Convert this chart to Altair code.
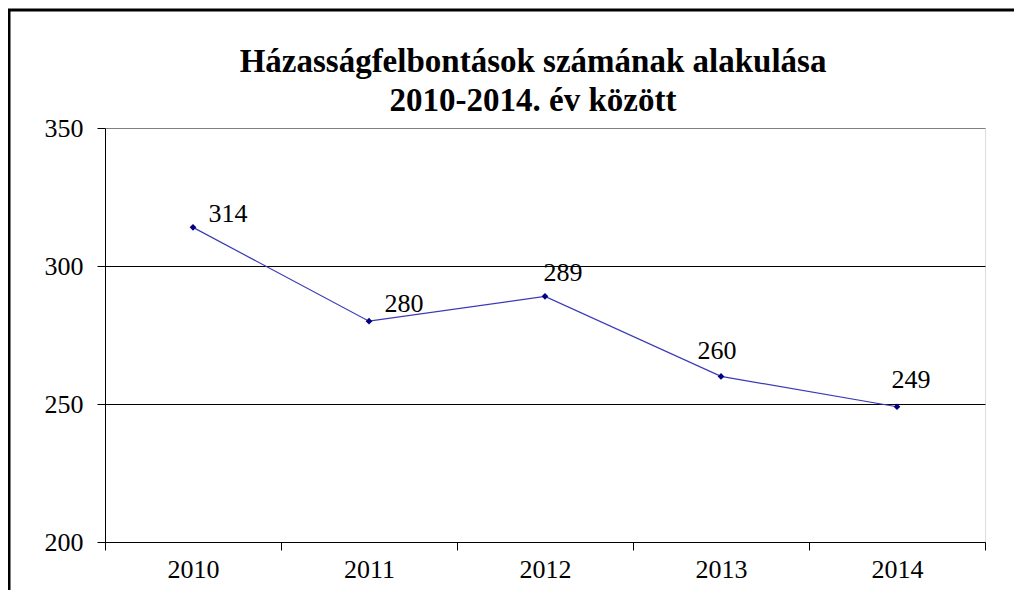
import altair as alt
import pandas as pd

years = ["2010", "2011", "2012", "2013", "2014"]
values = [314, 280, 289, 260, 249]
title_lines = ["Házasságfelbontások számának alakulása", "2010-2014. év között"]

df = pd.DataFrame({"year": years, "value": values})

FONT = "'Liberation Serif', 'Times New Roman', serif"

x_enc = alt.X(
    "year:N",
    scale=alt.Scale(paddingInner=0, paddingOuter=0),
    axis=alt.Axis(
        title=None, labelAngle=0, tickBand="extent", ticks=True, tickSize=8,
        tickColor="black", domainColor="black", labelColor="black",
        labelFont=FONT, labelFontSize=26, labelPadding=6, grid=False,
    ),
)
y_enc = alt.Y(
    "value:Q",
    scale=alt.Scale(domain=[200, 350], nice=False, zero=False),
    axis=alt.Axis(
        title=None, values=[200, 250, 300, 350], tickSize=8, tickColor="black",
        domainColor="black", labelColor="black", labelFont=FONT,
        labelFontSize=26, labelPadding=14, grid=True,
        gridColor={"condition": {"test": "datum.value == 350", "value": "#808080"}, "value": "black"},
        gridOpacity=1, gridWidth=1,
    ),
)

base = alt.Chart(df)

line = base.mark_line(color="#3a3ab8", strokeWidth=1.2).encode(x=x_enc, y=y_enc)
points = base.mark_point(shape="diamond", filled=True, color="#000080", size=45, opacity=1).encode(x=x_enc, y=y_enc)

offsets = {"2010": (35, -13), "2011": (35, -17), "2012": (18, -23), "2013": (-4, -25), "2014": (14, -27)}
labels = []
for yr in years:
    dx, dy = offsets[yr]
    labels.append(
        base.transform_filter(alt.datum.year == yr)
        .mark_text(font=FONT, fontSize=26, color="black", align="center", baseline="middle", dx=dx, dy=dy)
        .encode(x=x_enc, y=y_enc, text="value:Q")
    )

one = pd.DataFrame({"a": [0]})
frame = alt.Chart(one).mark_rect(
    fill=None, stroke="black", strokeWidth=3, clip=False
).encode(
    x=alt.value(-96), y=alt.value(-118), x2=alt.value(1300), y2=alt.value(1000)
)

title_marks = []
for txt, ypos in zip(title_lines, [-56, -17]):
    title_marks.append(
        alt.Chart(one).mark_text(
            font=FONT, fontSize=33, fontWeight="bold", color="black",
            align="center", baseline="alphabetic", clip=False,
        ).encode(x=alt.value(428), y=alt.value(ypos), text=alt.value(txt))
    )

chart = alt.layer(line, points, *labels, frame, *title_marks).properties(
    width=880,
    height=414,
    padding={"left": 97, "top": 120, "right": 29, "bottom": 48},
    autosize="none",
).configure_view(stroke="#808080", strokeWidth=1.5).configure(background="white")

chart.save("out.html", embed_options={"renderer": "svg", "actions": False})
